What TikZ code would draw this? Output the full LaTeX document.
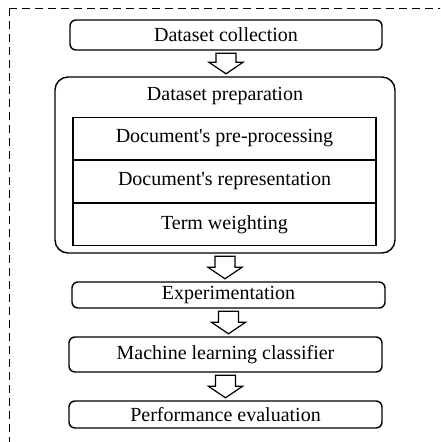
\documentclass[tikz,border=0pt]{standalone}
\usepackage{fontspec}
\newfontfamily\labelfont{Liberation Serif}
\usetikzlibrary{calc}

\tikzset{
  txt/.style={font=\labelfont\fontsize{20}{24}\selectfont},
  stage/.style={txt, draw, line width=1.4pt, rounded corners=6pt, inner sep=0pt},
  group/.style={draw, line width=1.4pt, rounded corners=13pt, inner sep=0pt},
  substep/.style={txt, draw, line width=1.3pt, inner sep=0pt, minimum width=303pt,
    minimum height=41.7pt, anchor=north},
  hollowarrow/.style={draw, line width=1.2pt, fill=white, line join=miter},
  frame/.style={draw, line width=0.8pt, dash pattern=on 8pt off 5pt}
}

% hollow block arrow from the bottom of #1 to the top of #2
\newcommand\blockarrow[2]{%
  \path[hollowarrow] let \p1=(#1.south), \p2=(#2.north) in
    (\x1-10pt,\y1-2.5pt) -- (\x1+10pt,\y1-2.5pt) -- (\x1+10pt,\y2+14pt)
    -- (\x1+17pt,\y2+14pt) -- (\x1,\y2+2.5pt) -- (\x1-17pt,\y2+14pt)
    -- (\x1-10pt,\y2+14pt) -- cycle;}

\begin{document}
\begin{tikzpicture}[x=1pt, y=-1pt]
  \useasboundingbox (0,0) rectangle (440,442);
  \fill[white] (0,0) rectangle (440,442);

  % dashed outer frame, running off the right and bottom edges
  \begin{scope}
    \clip (0,0) rectangle (440,442);
    \path[frame] (9,8) -- (460,8);
    \path[frame] (9,8) -- (9,460);
  \end{scope}

  % pipeline stages
  \node[stage, minimum width=312pt, minimum height=30pt] (collect) at (226,35) {Dataset collection};

  \node[group, minimum width=340pt, minimum height=176pt] (prep) at (225,165) {};
  \node[txt, inner sep=0pt] (preptitle) at (225,96) {Dataset preparation};
  \node[substep] (preproc) at (224.5,117) {Document's pre-processing};
  \node[substep] (repr) at (preproc.south) {Document's representation};
  \node[substep] (weight) at (repr.south) {Term weighting};

  \node[stage, minimum width=313pt, minimum height=26pt] (exper) at (228.5,295) {Experimentation};
  \node[stage, minimum width=313pt, minimum height=35pt] (mlclass) at (225.5,354.5) {Machine learning classifier};
  \node[stage, minimum width=313pt, minimum height=27pt] (perf) at (225.5,414.5) {Performance evaluation};

  % flow between stages
  \blockarrow{collect}{prep}
  \blockarrow{prep}{exper}
  \blockarrow{exper}{mlclass}
  \blockarrow{mlclass}{perf}
\end{tikzpicture}
\end{document}
